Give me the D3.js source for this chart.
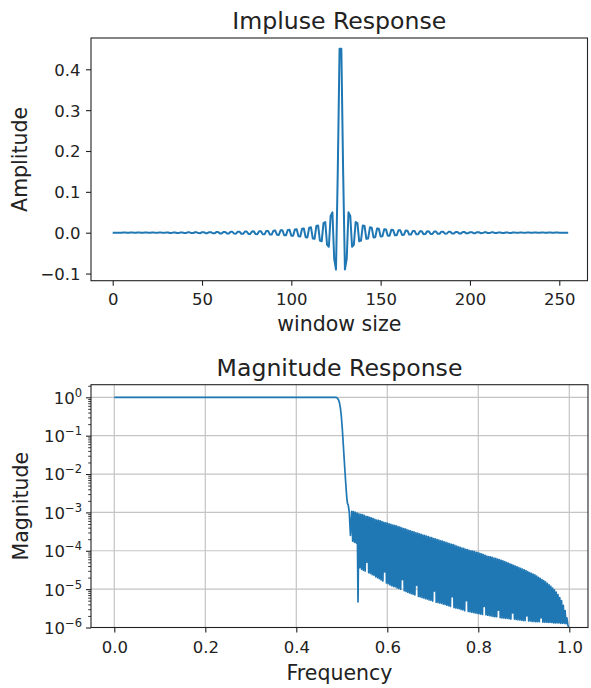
<!DOCTYPE html>
<html><head><meta charset="utf-8">
<script src="https://cdn.jsdelivr.net/npm/d3@7"></script>
<style>
body{margin:0;background:#fff}
svg text{font-family:"DejaVu Sans",sans-serif;fill:#222}
</style>
</head><body><svg id="c" width="591" height="688"></svg>
<script>
// ---------------- data ----------------
// Impulse response: 256 taps (window index 0..255)
const impulseResponse = [
-0.0001,-0.0001,0.0001,0.0001,-0.0002,-0.0002,0.0002,0.0002,
-0.0002,-0.0002,0.0002,0.0002,-0.0002,-0.0002,0.0002,0.0002,
-0.0002,-0.0002,0.0003,0.0003,-0.0003,-0.0003,0.0003,0.0003,
-0.0004,-0.0004,0.0004,0.0004,-0.0004,-0.0004,0.0005,0.0005,
-0.0005,-0.0005,0.0006,0.0006,-0.0006,-0.0006,0.0007,0.0007,
-0.0007,-0.0008,0.0008,0.0008,-0.0009,-0.0009,0.0010,0.0010,
-0.0010,-0.0011,0.0011,0.0012,-0.0012,-0.0013,0.0013,0.0014,
-0.0014,-0.0015,0.0015,0.0016,-0.0017,-0.0017,0.0018,0.0019,
-0.0019,-0.0020,0.0021,0.0021,-0.0022,-0.0023,0.0024,0.0025,
-0.0026,-0.0027,0.0028,0.0029,-0.0030,-0.0031,0.0032,0.0033,
-0.0034,-0.0035,0.0037,0.0038,-0.0039,-0.0041,0.0042,0.0044,
-0.0046,-0.0047,0.0049,0.0051,-0.0053,-0.0055,0.0057,0.0060,
-0.0062,-0.0065,0.0067,0.0070,-0.0074,-0.0077,0.0081,0.0084,
-0.0089,-0.0093,0.0098,0.0104,-0.0109,-0.0116,0.0123,0.0131,
-0.0140,-0.0151,0.0163,0.0176,-0.0192,-0.0211,0.0234,0.0262,
-0.0298,-0.0344,0.0408,0.0499,-0.0642,-0.0900,0.1501,0.4502,
0.4502,0.1501,-0.0900,-0.0642,0.0499,0.0408,-0.0344,-0.0298,
0.0262,0.0234,-0.0211,-0.0192,0.0176,0.0163,-0.0151,-0.0140,
0.0131,0.0123,-0.0116,-0.0109,0.0104,0.0098,-0.0093,-0.0089,
0.0084,0.0081,-0.0077,-0.0074,0.0070,0.0067,-0.0065,-0.0062,
0.0060,0.0057,-0.0055,-0.0053,0.0051,0.0049,-0.0047,-0.0046,
0.0044,0.0042,-0.0041,-0.0039,0.0038,0.0037,-0.0035,-0.0034,
0.0033,0.0032,-0.0031,-0.0030,0.0029,0.0028,-0.0027,-0.0026,
0.0025,0.0024,-0.0023,-0.0022,0.0021,0.0021,-0.0020,-0.0019,
0.0019,0.0018,-0.0017,-0.0017,0.0016,0.0015,-0.0015,-0.0014,
0.0014,0.0013,-0.0013,-0.0012,0.0012,0.0011,-0.0011,-0.0010,
0.0010,0.0010,-0.0009,-0.0009,0.0008,0.0008,-0.0008,-0.0007,
0.0007,0.0007,-0.0006,-0.0006,0.0006,0.0006,-0.0005,-0.0005,
0.0005,0.0005,-0.0004,-0.0004,0.0004,0.0004,-0.0004,-0.0004,
0.0003,0.0003,-0.0003,-0.0003,0.0003,0.0003,-0.0002,-0.0002,
0.0002,0.0002,-0.0002,-0.0002,0.0002,0.0002,-0.0002,-0.0002,
0.0002,0.0002,-0.0002,-0.0002,0.0001,0.0001,-0.0001,-0.0001
];
const topXTicks = [0, 50, 100, 150, 200, 250];
const topYTicks = [-0.1, 0.0, 0.1, 0.2, 0.3, 0.4];

// Magnitude response: passband + transition (explicit frequency, log10 magnitude)
const passFreq     = [0.000, 0.480, 0.487, 0.490, 0.493, 0.495, 0.497, 0.499, 0.501, 0.503, 0.505, 0.507, 0.509, 0.511, 0.5125, 0.514, 0.5165, 0.519];
const passLog10Mag = [0.00,  0.00,  0.00, -0.02, -0.07, -0.15, -0.28, -0.50, -0.80, -1.18, -1.56, -1.94, -2.30, -2.62, -2.77, -2.80, -3.00, -3.60];

// Stopband: one sample per frequency bin (1/512) starting at stopStartFreq, log10 magnitude
const stopStartFreq = 0.522;
const stopStepFreq = 1 / 512;
const stopLog10Mag = [
-2.97,-3.75,-2.98,-3.78, -3.00,-3.80,-3.02,-5.33, -3.04,-4.44,-3.05,-4.48, -3.06,-4.51,-3.08,-4.53,
-3.10,-4.30,-3.11,-4.57, -3.13,-4.59,-3.14,-4.62, -3.16,-4.64,-3.18,-4.68, -3.20,-4.70,-3.21,-4.73,
-3.22,-4.76,-3.24,-4.79, -3.26,-4.55,-3.27,-4.84, -3.28,-4.86,-3.30,-4.89, -3.31,-4.91,-3.33,-4.93,
-3.34,-4.94,-3.35,-4.97, -3.37,-4.98,-3.38,-5.00, -3.40,-4.75,-3.42,-5.04, -3.43,-5.06,-3.45,-5.08,
-3.47,-5.10,-3.48,-5.12, -3.50,-5.13,-3.51,-5.15, -3.53,-4.90,-3.54,-5.19, -3.56,-5.20,-3.57,-5.22,
-3.59,-5.23,-3.60,-5.25, -3.62,-5.26,-3.63,-5.28, -3.65,-5.29,-3.66,-5.31, -3.68,-5.05,-3.69,-5.34,
-3.71,-5.35,-3.72,-5.36, -3.74,-5.37,-3.75,-5.39, -3.77,-5.40,-3.78,-5.42, -3.80,-5.43,-3.81,-5.45,
-3.83,-5.20,-3.84,-5.48, -3.86,-5.49,-3.88,-5.50, -3.90,-5.51,-3.91,-5.53, -3.93,-5.54,-3.94,-5.56,
-3.96,-5.30,-3.97,-5.58, -3.99,-5.59,-4.00,-5.60, -4.01,-5.61,-4.02,-5.62, -4.04,-5.63,-4.05,-5.64,
-4.07,-5.65,-4.08,-5.66, -4.10,-5.45,-4.12,-5.67, -4.14,-5.68,-4.15,-5.69, -4.16,-5.70,-4.17,-5.71,
-4.19,-5.72,-4.20,-5.72, -4.22,-5.55,-4.23,-5.74, -4.25,-5.75,-4.26,-5.75, -4.28,-5.76,-4.30,-5.76,
-4.32,-5.77,-4.34,-5.78, -4.36,-5.62,-4.38,-5.78, -4.40,-5.79,-4.42,-5.80, -4.44,-5.80,-4.46,-5.81,
-4.48,-5.82,-4.50,-5.82, -4.52,-5.70,-4.54,-5.83, -4.57,-5.83,-4.59,-5.84, -4.61,-5.84,-4.63,-5.85,
-4.66,-5.85,-4.69,-5.85, -4.72,-5.75,-4.75,-5.86, -4.78,-5.86,-4.81,-5.86, -4.85,-5.87,-4.89,-5.87,
-4.93,-5.87,-4.97,-5.88, -5.02,-5.88,-5.08,-5.88, -5.14,-5.88,-5.22,-5.89, -5.30,-5.89,-5.42,-5.89,
-5.56,-5.90,-5.75,-5.92, -6.00
];
const bottomXTicks = [0.0, 0.2, 0.4, 0.6, 0.8, 1.0];
const bottomYTickExponents = [0, -1, -2, -3, -4, -5, -6];
const minorMultipliers = [2, 3, 4, 5, 6, 7, 8, 9];

// ---------------- drawing ----------------
const svg = d3.select("#c");
const BLUE = "#1f77b4", INK = "#222";
const tickFont = "16.5px", labelFont = "20.5px", titleFont = "23.6px";

function cleanAxis(g) {
  g.attr("font-family", null).attr("font-size", null);
  g.select(".domain").remove();
  g.selectAll(".tick line").attr("stroke", INK).attr("stroke-width", 1.1);
  g.selectAll(".tick text").attr("fill", INK).attr("font-size", tickFont);
}

// ===== Top: Impulse Response =====
const T = {l: 91, r: 587.5, t: 38, b: 280.7};
const xTop = d3.scaleLinear().domain([-12.15, 265.8]).range([T.l, T.r]);
const yTop = d3.scaleLinear().domain([-0.1175, 0.4766]).range([T.b, T.t]);

svg.append("path")
  .datum(impulseResponse)
  .attr("fill", "none").attr("stroke", BLUE).attr("stroke-width", 2)
  .attr("stroke-linejoin", "round")
  .attr("d", d3.line().x((d, i) => xTop(i)).y(d => yTop(d)));

svg.append("g").attr("transform", `translate(0,${T.b})`)
  .call(d3.axisBottom(xTop).tickValues(topXTicks).tickSize(5).tickFormat(d3.format("d")))
  .call(cleanAxis)
  .call(g => g.selectAll(".tick text").attr("y", 24.3).attr("dy", "0"));

svg.append("g").attr("transform", `translate(${T.l},0)`)
  .call(d3.axisLeft(yTop).tickValues(topYTicks).tickSize(5).tickPadding(5.5).tickFormat(d3.format(".1f")))
  .call(cleanAxis)
  .call(g => g.selectAll(".tick text").attr("dy", "0.36em"));

svg.append("rect").attr("x", T.l).attr("y", T.t).attr("width", T.r - T.l).attr("height", T.b - T.t)
  .attr("fill", "none").attr("stroke", INK).attr("stroke-width", 1.1);

svg.append("text").attr("x", (T.l + T.r) / 2).attr("y", 29.3).attr("text-anchor", "middle")
  .attr("font-size", titleFont).text("Impluse Response");
svg.append("text").attr("x", (T.l + T.r) / 2).attr("y", 331).attr("text-anchor", "middle")
  .attr("font-size", labelFont).text("window size");
svg.append("text").attr("transform", `translate(26.5,${(T.t + T.b) / 2}) rotate(-90)`)
  .attr("text-anchor", "middle").attr("font-size", labelFont).text("Amplitude");

// ===== Bottom: Magnitude Response =====
const B = {l: 91, r: 588, t: 384.7, b: 627.5};
const xBot = d3.scaleLinear().domain([-0.0512, 1.0411]).range([B.l, B.r]);
const yBot = d3.scaleLog().domain([1e-6, Math.pow(10, 0.3284)]).range([B.b, B.t]);
const stopIndexToFreq = d3.scaleLinear().domain([0, 1]).range([stopStartFreq, stopStartFreq + stopStepFreq]);

// grid
const grid = svg.append("g").attr("stroke", "#c4c4c4").attr("stroke-width", 1.2);
bottomXTicks.forEach(v => grid.append("line").attr("x1", xBot(v)).attr("x2", xBot(v)).attr("y1", B.t).attr("y2", B.b));
bottomYTickExponents.forEach(e => grid.append("line").attr("x1", B.l).attr("x2", B.r)
  .attr("y1", yBot(Math.pow(10, e))).attr("y2", yBot(Math.pow(10, e))));

// curve
const magPoints = passFreq.map((f, i) => [f, Math.pow(10, passLog10Mag[i])])
  .concat(stopLog10Mag.map((v, i) => [stopIndexToFreq(i), Math.pow(10, v)]));
svg.append("path")
  .datum(magPoints)
  .attr("fill", "none").attr("stroke", BLUE).attr("stroke-width", 1.7)
  .attr("stroke-linejoin", "round")
  .attr("d", d3.line().x(d => xBot(d[0])).y(d => yBot(d[1])));

// axes
svg.append("g").attr("transform", `translate(0,${B.b})`)
  .call(d3.axisBottom(xBot).tickValues(bottomXTicks).tickSize(5).tickFormat(d3.format(".1f")))
  .call(cleanAxis)
  .call(g => g.selectAll(".tick text").attr("y", 25.8).attr("dy", "0"));

const [dMin, dMax] = yBot.domain();
const minorVals = [];
bottomYTickExponents.forEach(e => minorMultipliers.forEach(m => {
  const v = m * Math.pow(10, e);
  if (v > dMin && v < dMax) minorVals.push(v);
}));
svg.append("g").attr("transform", `translate(${B.l},0)`)
  .call(d3.axisLeft(yBot).tickValues(minorVals).tickSize(2.8).tickFormat(""))
  .call(cleanAxis)
  .call(g => g.selectAll(".tick line").attr("stroke-width", 0.9));

svg.append("g").attr("transform", `translate(${B.l},0)`)
  .call(d3.axisLeft(yBot).tickValues(bottomYTickExponents.map(e => Math.pow(10, e))).tickSize(5).tickPadding(4).tickFormat(""))
  .call(cleanAxis)
  .call(g => g.selectAll(".tick text").attr("dy", "0.36em").each(function (d) {
    const t = d3.select(this);
    const e = Math.round(Math.log10(d));
    t.text(null);
    t.append("tspan").text("10");
    t.append("tspan").attr("dy", -7).attr("font-size", "11.5px").text(e < 0 ? "\u2212" + (-e) : String(e));
  }));

svg.append("rect").attr("x", B.l).attr("y", B.t).attr("width", B.r - B.l).attr("height", B.b - B.t)
  .attr("fill", "none").attr("stroke", INK).attr("stroke-width", 1.1);

svg.append("text").attr("x", (B.l + B.r) / 2).attr("y", 376).attr("text-anchor", "middle")
  .attr("font-size", titleFont).text("Magnitude Response");
svg.append("text").attr("x", (B.l + B.r) / 2).attr("y", 680).attr("text-anchor", "middle")
  .attr("font-size", labelFont).text("Frequency");
svg.append("text").attr("transform", `translate(27.5,${(B.t + B.b) / 2}) rotate(-90)`)
  .attr("text-anchor", "middle").attr("font-size", labelFont).text("Magnitude");
</script>
</body></html>
